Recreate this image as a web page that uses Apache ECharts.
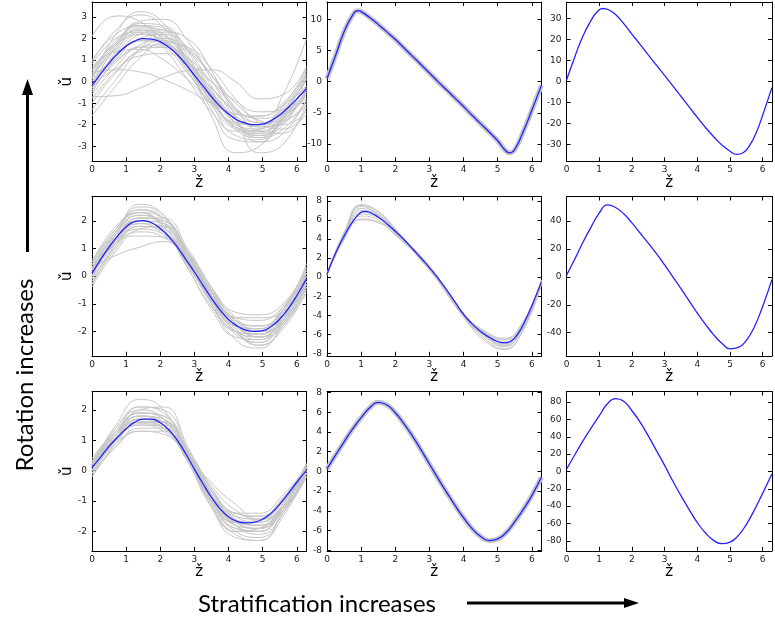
<!DOCTYPE html>
<html><head><meta charset="utf-8">
<script src="https://cdn.jsdelivr.net/npm/echarts@6/dist/echarts.min.js"></script>
<style>html,body{margin:0;padding:0;background:#fff}#c{width:775px;height:623px}</style>
</head><body><div id="c"></div>
<script>
// ---------- DATA ----------
const xTickValues = [0, 1, 2, 3, 4, 5, 6];
const xLabel = 'ž';
const yLabel = 'ǔ';

// shared x samples
const xsQ = [0, 0.25, 0.5, 0.75, 1, 1.25, 1.5, 1.75, 2, 2.25, 2.5, 2.75, 3, 3.25, 3.5, 3.75, 4, 4.25, 4.5, 4.75, 5, 5.25, 5.5, 5.75, 6, 6.28];
const xsGray = [0, 0.7, 1.4, 2.1, 2.8, 3.5, 4.2, 4.9, 5.6, 6.28];

// Panel 1 (top-left)
const mean1 = [-0.18, 0.35, 0.85, 1.3, 1.65, 1.88, 2.0, 1.98, 1.85, 1.6, 1.25, 0.8, 0.3, -0.2, -0.7, -1.15, -1.5, -1.78, -1.93, -2.0, -1.97, -1.8, -1.55, -1.2, -0.8, -0.33];
const gray1 = [
  [0.2, 1.6, 2.4, 2.2, 1.0, -0.6, -1.9, -2.3, -1.7, -0.4],
  [-0.4, 1.0, 1.9, 1.9, 0.9, -0.5, -1.6, -2.0, -1.6, -0.7],
  [2.1, 3.05, 2.8, 1.6, 0.1, -1.4, -2.3, -2.2, -1.2, 0.3],
  [0.1, 2.2, 3.25, 2.7, 0.8, -1.6, -3.3, -3.0, -1.5, 0.1],
  [-0.7, -0.65, -0.3, 0.2, 0.5, 0.55, 0.0, -0.8, -0.6, 0.7],
  [0.4, 0.55, 0.45, 0.1, -0.4, -1.0, -1.5, -1.6, -1.1, -0.2],
  [-1.3, 0.1, 1.5, 2.3, 2.0, 0.5, -1.6, -3.3, -2.9, -1.0],
  [-0.2, 1.3, 2.2, 1.9, 0.7, -0.8, -2.0, -2.2, -0.6, 2.0],
  [0.5, 1.9, 2.6, 2.2, 0.9, -0.8, -2.1, -2.5, -1.8, -0.5],
  [-0.6, 0.7, 1.6, 1.7, 0.9, -0.3, -1.4, -1.9, -1.5, -0.5],
  [1.0, 2.2, 2.6, 1.9, 0.5, -1.1, -2.2, -2.4, -1.6, -0.2],
  [-1.0, 0.4, 1.4, 1.6, 1.1, 0.0, -1.2, -1.9, -1.8, -1.1],
  [0.3, 1.7, 2.7, 2.6, 1.4, -0.4, -1.9, -2.6, -2.2, -0.9],
  [0.0, 1.2, 1.9, 1.8, 0.9, -0.6, -1.7, -2.1, -1.7, 0.2],
  [0.7, 1.4, 1.5, 1.0, 0.1, -0.9, -1.5, -1.6, -1.0, 0.4],
  [-0.3, 0.9, 1.7, 2.0, 1.5, 0.3, -1.2, -2.3, -2.4, -1.2],
  [0.4, 1.8, 2.8, 2.9, 1.9, 0.1, -1.7, -2.8, -2.4, -0.8],
  [-0.5, 1.1, 2.2, 2.4, 1.5, -0.2, -1.8, -2.4, -1.9, -0.4],
  [0.9, 2.4, 3.1, 2.5, 0.8, -1.3, -2.7, -2.8, -1.6, 0.3],
  [-0.1, 0.6, 1.2, 1.3, 0.9, 0.0, -0.9, -1.4, -1.3, -0.6],
  [0.2, 1.5, 2.3, 2.1, 1.1, -0.5, -1.9, -2.5, -2.0, -0.3],
  [-0.8, 0.5, 1.5, 1.9, 1.4, 0.3, -1.0, -1.8, -2.0, -1.4],
  [0.6, 1.8, 2.4, 2.0, 0.7, -0.9, -2.1, -2.3, -1.4, 0.5],
  [-0.3, 1.4, 2.5, 2.4, 1.0, -1.0, -2.5, -2.7, -1.7, -0.2],
  [0.3, 1.0, 1.6, 1.6, 0.8, -0.3, -1.3, -1.7, -1.5, -0.8],
  [-1.6, -0.2, 1.1, 1.8, 1.6, 0.6, -0.8, -1.9, -2.2, -1.5],
  [0.8, 2.0, 2.3, 1.7, 0.4, -1.0, -1.9, -2.0, -1.1, 0.6],
  [-0.2, 1.6, 2.6, 2.5, 1.2, -0.7, -2.2, -2.6, -1.8, -0.6],
  [0.1, 1.2, 2.0, 2.2, 1.6, 0.3, -1.3, -2.1, -1.9, -0.9],
  [0.5, 1.7, 2.2, 1.8, 0.6, -0.9, -1.9, -2.0, -1.3, 0.1]
];

// Panel 2 (top-middle)
const xsMean2 = [0, 0.25, 0.5, 0.75, 0.9, 1.0, 1.25, 1.5, 1.75, 2, 2.25, 2.5, 2.75, 3, 3.25, 3.5, 3.75, 4, 4.25, 4.5, 4.75, 5, 5.2, 5.35, 5.5, 5.75, 6, 6.28];
const mean2 = [0.5, 4.2, 8.0, 10.7, 11.4, 11.25, 10.3, 9.2, 8.0, 6.8, 5.45, 4.1, 2.75, 1.4, 0.0, -1.3, -2.65, -4.0, -5.4, -6.75, -8.1, -9.5, -10.9, -11.45, -10.9, -8.0, -4.6, -0.6];

// Panel 3 (top-right)
const xsMean3 = [0, 0.25, 0.5, 0.75, 0.92, 1.1, 1.3, 1.5, 1.75, 2, 2.25, 2.5, 2.75, 3, 3.25, 3.5, 3.75, 4, 4.25, 4.5, 4.75, 5, 5.2, 5.4, 5.6, 5.8, 6, 6.28];
const mean3 = [0.5, 11.5, 21.5, 29, 32.8, 34.7, 34.0, 31.8, 27.5, 22.5, 17.6, 12.6, 7.7, 2.8, -2.2, -7.2, -12.2, -17.2, -22, -26.4, -30.3, -33.3, -34.8, -34.0, -30.5, -24.5, -16, -3];

// Panel 4 (middle-left)
const mean4 = [0.1, 0.6, 1.05, 1.45, 1.78, 1.97, 2.01, 1.93, 1.72, 1.43, 1.05, 0.6, 0.15, -0.33, -0.8, -1.22, -1.57, -1.8, -1.95, -2.0, -1.97, -1.82, -1.55, -1.17, -0.7, -0.1];
const gray4 = [
  [0.4, 1.7, 2.4, 2.1, 0.8, -0.7, -1.8, -2.2, -1.6, -0.3],
  [-0.3, 1.0, 1.8, 1.6, 0.6, -0.6, -1.6, -1.9, -1.3, 0.1],
  [0.3, 0.75, 1.05, 1.25, 0.7, -0.6, -1.7, -2.1, -1.5, -0.2],
  [0.6, 1.6, 2.6, 2.2, 0.7, -1.0, -2.3, -2.6, -1.7, -0.2],
  [0.0, 1.2, 1.45, 1.4, 0.6, -0.5, -1.3, -1.4, -1.0, 0.2],
  [0.2, 1.5, 2.2, 1.9, 0.5, -1.0, -2.1, -2.4, -1.6, 0.0],
  [-0.4, 0.9, 1.7, 1.8, 0.9, -0.4, -1.5, -2.0, -1.7, -0.6],
  [0.5, 1.8, 2.3, 1.7, 0.3, -1.1, -2.0, -2.1, -1.2, 0.3],
  [0.1, 1.4, 2.1, 1.9, 0.7, -0.8, -1.9, -2.3, -1.7, -0.4],
  [-0.1, 1.1, 1.9, 1.8, 0.8, -0.5, -1.6, -1.8, -1.2, 0.45],
  [0.3, 1.6, 2.5, 2.2, 0.9, -0.7, -1.9, -2.5, -1.9, -0.5],
  [0.2, 1.3, 1.7, 1.5, 0.4, -0.9, -1.8, -1.9, -1.2, 0.1],
  [-0.2, 1.2, 2.1, 2.0, 0.9, -0.5, -1.7, -2.2, -1.8, -0.3],
  [0.4, 1.5, 2.0, 1.6, 0.3, -1.2, -2.2, -2.3, -1.3, 0.2],
  [0.0, 1.3, 2.3, 2.1, 0.8, -0.8, -2.0, -2.5, -1.8, -0.4],
  [0.3, 1.4, 1.9, 1.5, 0.5, -0.7, -1.5, -1.6, -1.1, 0.0],
  [-0.3, 1.1, 2.0, 1.9, 0.8, -0.6, -1.8, -2.1, -1.5, -0.2],
  [0.2, 1.6, 2.2, 1.8, 0.4, -0.9, -1.8, -1.9, -1.1, 0.3],
  [0.1, 1.2, 1.8, 1.7, 0.7, -0.6, -1.7, -2.2, -1.6, -0.3],
  [0.5, 1.7, 2.3, 1.8, 0.5, -1.0, -2.0, -2.2, -1.4, 0.1],
  [-0.1, 1.4, 2.0, 1.6, 0.6, -0.7, -1.5, -1.5, -1.3, -0.1],
  [0.2, 1.3, 2.1, 2.1, 1.0, -0.4, -1.6, -2.0, -1.6, -0.4],
  [0.0, 1.5, 2.4, 2.0, 0.6, -0.9, -2.0, -2.4, -1.5, 0.0],
  [0.3, 1.2, 1.6, 1.4, 0.5, -0.6, -1.6, -1.8, -1.4, -0.2]
];

// Panel 5 (centre)
const xsMean5 = [0, 0.25, 0.5, 0.75, 1.0, 1.1, 1.25, 1.5, 1.75, 2, 2.25, 2.5, 2.75, 3, 3.25, 3.5, 3.75, 4, 4.25, 4.5, 4.75, 5, 5.2, 5.4, 5.6, 5.8, 6, 6.28];
const mean5 = [0.3, 2.5, 4.3, 5.8, 6.8, 6.9, 6.8, 6.3, 5.6, 4.8, 3.95, 3.0, 2.0, 1.0, -0.1, -1.3, -2.6, -3.9, -4.9, -5.7, -6.3, -6.75, -6.9, -6.7, -5.9, -4.6, -3.0, -0.5];
const xsGray5 = [0, 0.5, 1.0, 1.5, 2.0, 3.0, 4.0, 4.6, 5.2, 5.7, 6.28];
const gray5 = [
  [0.3, 4.7, 7.5, 6.8, 5.0, 0.8, -4.2, -6.6, -7.6, -5.8, -0.4],
  [0.2, 3.9, 6.1, 5.8, 4.5, 1.0, -3.8, -5.6, -6.4, -4.9, -0.6],
  [0.4, 4.5, 7.2, 6.6, 4.9, 1.1, -4.1, -6.2, -7.3, -5.6, -0.7],
  [0.3, 4.1, 6.4, 6.0, 4.6, 0.7, -3.8, -5.8, -6.6, -5.0, -0.3],
  [0.2, 4.4, 7.4, 6.6, 4.8, 0.9, -3.9, -6.1, -7.1, -5.5, -0.5],
  [0.3, 4.2, 6.6, 6.2, 4.7, 1.2, -4.0, -5.9, -6.8, -5.1, -0.4],
  [0.35, 4.6, 7.6, 6.9, 5.1, 0.8, -4.1, -6.4, -7.5, -5.9, -0.8],
  [0.25, 4.0, 6.0, 5.7, 4.4, 0.9, -3.8, -5.7, -6.5, -5.0, -0.5],
  [0.3, 4.3, 7.0, 6.5, 4.8, 1.0, -4.1, -6.1, -7.0, -5.5, -0.6],
  [0.3, 4.4, 6.8, 6.3, 4.9, 0.8, -3.9, -6.0, -7.2, -5.4, -0.4]
];

// Panel 6 (middle-right)
const mean6 = [1, 12.5, 24.5, 35.5, 45.5, 51.4, 49.5, 45, 38.5, 31.3, 24, 16.5, 8.5, 0, -8.5, -17.3, -26, -34, -41.5, -47.5, -51.5, -50.5, -45.5, -35.5, -21, -2];

// Panel 7 (bottom-left)
const mean7 = [0.1, 0.45, 0.8, 1.1, 1.38, 1.6, 1.7, 1.7, 1.58, 1.35, 1.0, 0.55, 0.05, -0.43, -0.88, -1.25, -1.52, -1.67, -1.72, -1.7, -1.6, -1.4, -1.1, -0.75, -0.38, 0.0];
const gray7 = [
  [0.3, 1.4, 2.1, 1.9, 0.6, -1.0, -1.9, -2.0, -1.2, 0.1],
  [-0.2, 0.8, 1.4, 1.4, 0.6, -0.6, -1.4, -1.5, -1.0, -0.1],
  [0.2, 1.5, 2.35, 2.0, 0.5, -1.2, -2.2, -2.3, -1.3, 0.2],
  [0.0, 0.9, 1.3, 1.2, 0.4, -0.7, -1.4, -1.5, -0.9, 0.1],
  [0.4, 1.3, 1.8, 1.6, 0.5, -0.9, -1.8, -1.9, -1.1, 0.25],
  [-0.1, 1.0, 1.6, 1.6, 0.7, -0.5, -1.3, -1.6, -1.2, -0.2],
  [0.2, 1.2, 1.9, 1.8, 0.6, -1.1, -2.1, -2.3, -1.5, -0.1],
  [0.1, 1.1, 1.5, 1.3, 0.4, -0.8, -1.5, -1.6, -1.0, 0.1],
  [0.3, 1.3, 2.0, 2.1, 0.8, -0.8, -1.8, -2.1, -1.4, 0.0],
  [-0.1, 1.0, 1.7, 1.5, 0.3, -1.0, -1.7, -1.7, -1.0, 0.2],
  [0.2, 1.2, 1.6, 1.4, 0.5, -0.4, -1.1, -1.6, -1.3, -0.2],
  [0.0, 1.1, 1.8, 1.7, 0.6, -0.9, -1.9, -2.0, -1.2, 0.1],
  [0.25, 1.4, 2.0, 1.7, 0.4, -1.1, -2.0, -1.9, -1.1, 0.15],
  [0.1, 1.0, 1.5, 1.5, 0.6, -0.7, -1.6, -1.8, -1.2, 0.0],
  [-0.2, 0.9, 1.6, 1.6, 0.6, -0.8, -1.7, -1.9, -1.3, -0.1],
  [0.3, 1.2, 1.7, 1.4, 0.4, -1.0, -1.7, -1.6, -0.9, 0.2],
  [0.0, 1.2, 2.1, 2.0, 0.7, -1.0, -2.0, -2.2, -1.4, 0.0],
  [0.2, 1.1, 1.55, 1.4, 0.5, -0.7, -1.4, -1.4, -0.8, 0.1],
  [0.1, 1.3, 1.9, 1.7, 0.6, -0.9, -1.8, -2.0, -1.3, -0.1],
  [-0.1, 0.8, 1.3, 1.3, 0.5, -0.6, -1.5, -1.7, -1.2, -0.2],
  [0.2, 1.2, 1.8, 1.5, 0.3, -1.2, -2.0, -1.9, -1.1, 0.1],
  [0.0, 1.0, 1.6, 1.6, 0.7, -0.6, -1.6, -1.8, -1.3, -0.1],
  [0.3, 1.3, 1.9, 1.8, 0.6, -0.8, -1.7, -1.8, -1.1, 0.2],
  [0.1, 1.1, 1.7, 1.6, 0.5, -0.9, -1.7, -1.9, -1.2, 0.0]
];

// Panel 8 (bottom-middle)
const mean8 = [0.25, 1.65, 3.0, 4.3, 5.45, 6.45, 7.0, 6.75, 5.95, 4.85, 3.6, 2.2, 0.75, -0.7, -2.1, -3.45, -4.7, -5.8, -6.6, -7.02, -6.85, -6.2, -5.1, -3.85, -2.45, -0.6];

// Panel 9 (bottom-right)
const mean9 = [2.5, 19, 35, 50, 64, 78, 84, 81, 70, 57, 41, 24, 7, -11, -28, -44, -59, -71, -79.5, -83.3, -81.5, -74, -61, -44, -25, -3];

// y-axis ranges and tick steps per panel
const yMin = [-3.7, -12.8, -38.1, -2.88, -8.25, -56.5, -2.64, -8.05, -91.5];
const yMax = [3.7, 12.8, 37.8, 2.88, 8.45, 57.4, 2.61, 8.1, 92.2];
const yStep = [1, 5, 10, 1, 2, 20, 1, 2, 20];

// ---------- LAYOUT (positions / styles) ----------
const XMAX = 6.2832;
const colLeft = [92, 327, 566.5];
const rowTop = [2, 196.5, 391.5];
const plotW = 214.5, plotH = 159.3;
const GRAY = '#c6c6c6', BLUE = '#2222ff';

const panels = [
  {mx: xsQ, my: mean1, gx: xsGray, g: gray1},
  {mx: xsMean2, my: mean2, halo: true},
  {mx: xsMean3, my: mean3},
  {mx: xsQ, my: mean4, gx: xsGray, g: gray4},
  {mx: xsMean5, my: mean5, gx: xsGray5, g: gray5},
  {mx: xsQ, my: mean6},
  {mx: xsQ, my: mean7, gx: xsGray, g: gray7},
  {mx: xsQ, my: mean8, halo: true},
  {mx: xsQ, my: mean9}
];

function zip(xs, ys) { return xs.map((x, i) => [x, ys[i]]); }
function fmt(step) {
  return v => {
    const r = v / step;
    return Math.abs(r - Math.round(r)) < 1e-6 ? String(Math.round(v)) : '';
  };
}
const tickFont = {fontSize: 9, color: '#222', fontFamily: 'DejaVu Sans'};

const grid = [], xAxis = [], yAxis = [], series = [];
panels.forEach((p, i) => {
  const r = Math.floor(i / 3), c = i % 3;
  grid.push({left: colLeft[c], top: rowTop[r], width: plotW, height: plotH, show: false});
  const lineSt = {show: true, onZero: false, lineStyle: {color: '#000', width: 1}};
  const tick = {show: true, inside: true, length: 4, lineStyle: {color: '#000', width: 1}};
  ['bottom', 'top'].forEach(pos => {
    xAxis.push({
      type: 'value', gridIndex: i, position: pos, min: 0, max: XMAX, interval: 1,
      axisLine: lineSt, axisTick: tick, splitLine: {show: false},
      axisLabel: Object.assign({show: pos === 'bottom', margin: 4, formatter: fmt(1)}, tickFont),
      name: pos === 'bottom' ? xLabel : '', nameLocation: 'middle', nameGap: 11,
      nameTextStyle: {fontSize: 15, color: '#000', fontFamily: 'DejaVu Sans'}
    });
  });
  ['left', 'right'].forEach(pos => {
    yAxis.push({
      type: 'value', gridIndex: i, position: pos, min: yMin[i], max: yMax[i],
      minInterval: yStep[i], maxInterval: yStep[i],
      axisLine: lineSt, axisTick: tick, splitLine: {show: false},
      axisLabel: Object.assign({show: pos === 'left', margin: 5, formatter: fmt(yStep[i])}, tickFont),
      name: (pos === 'left' && c === 0) ? yLabel : '', nameLocation: 'middle', nameGap: 10, nameRotate: 90,
      nameTextStyle: {fontSize: 15, color: '#000', fontFamily: 'DejaVu Sans'}
    });
  });
  const base = {type: 'line', xAxisIndex: 2 * i, yAxisIndex: 2 * i, showSymbol: false, symbol: 'none', silent: true, animation: false, clip: true};
  if (p.g) {
    p.g.forEach(ys => series.push(Object.assign({}, base, {
      data: zip(p.gx, ys), smooth: 0.5, lineStyle: {color: GRAY, width: 1}
    })));
  }
  if (p.halo) {
    series.push(Object.assign({}, base, {data: zip(p.mx, p.my), smooth: 0.5, lineStyle: {color: GRAY, width: 5}}));
  }
  series.push(Object.assign({}, base, {data: zip(p.mx, p.my), smooth: 0.5, lineStyle: {color: BLUE, width: 1.3}}));
});

const graphic = [
  {type: 'text', x: 25, y: 375, rotation: Math.PI / 2,
   style: {text: 'Rotation increases', font: '24px Lato', fill: '#000', align: 'center', verticalAlign: 'middle'}},
  {type: 'line', shape: {x1: 27.5, y1: 252, x2: 27.5, y2: 92}, style: {stroke: '#000', lineWidth: 3}},
  {type: 'polygon', shape: {points: [[27.5, 79], [22, 95], [33, 95]]}, style: {fill: '#000'}},
  {type: 'text', x: 198, y: 604,
   style: {text: 'Stratification increases', font: '24px Lato', fill: '#000', align: 'left', verticalAlign: 'middle'}},
  {type: 'line', shape: {x1: 467, y1: 603, x2: 626, y2: 603}, style: {stroke: '#000', lineWidth: 3}},
  {type: 'polygon', shape: {points: [[639, 603], [624, 598], [624, 608]]}, style: {fill: '#000'}}
];

const chart = echarts.init(document.getElementById('c'), null, {renderer: 'canvas'});
chart.setOption({animation: false, backgroundColor: '#fff', grid, xAxis, yAxis, series, graphic});
</script></body></html>
